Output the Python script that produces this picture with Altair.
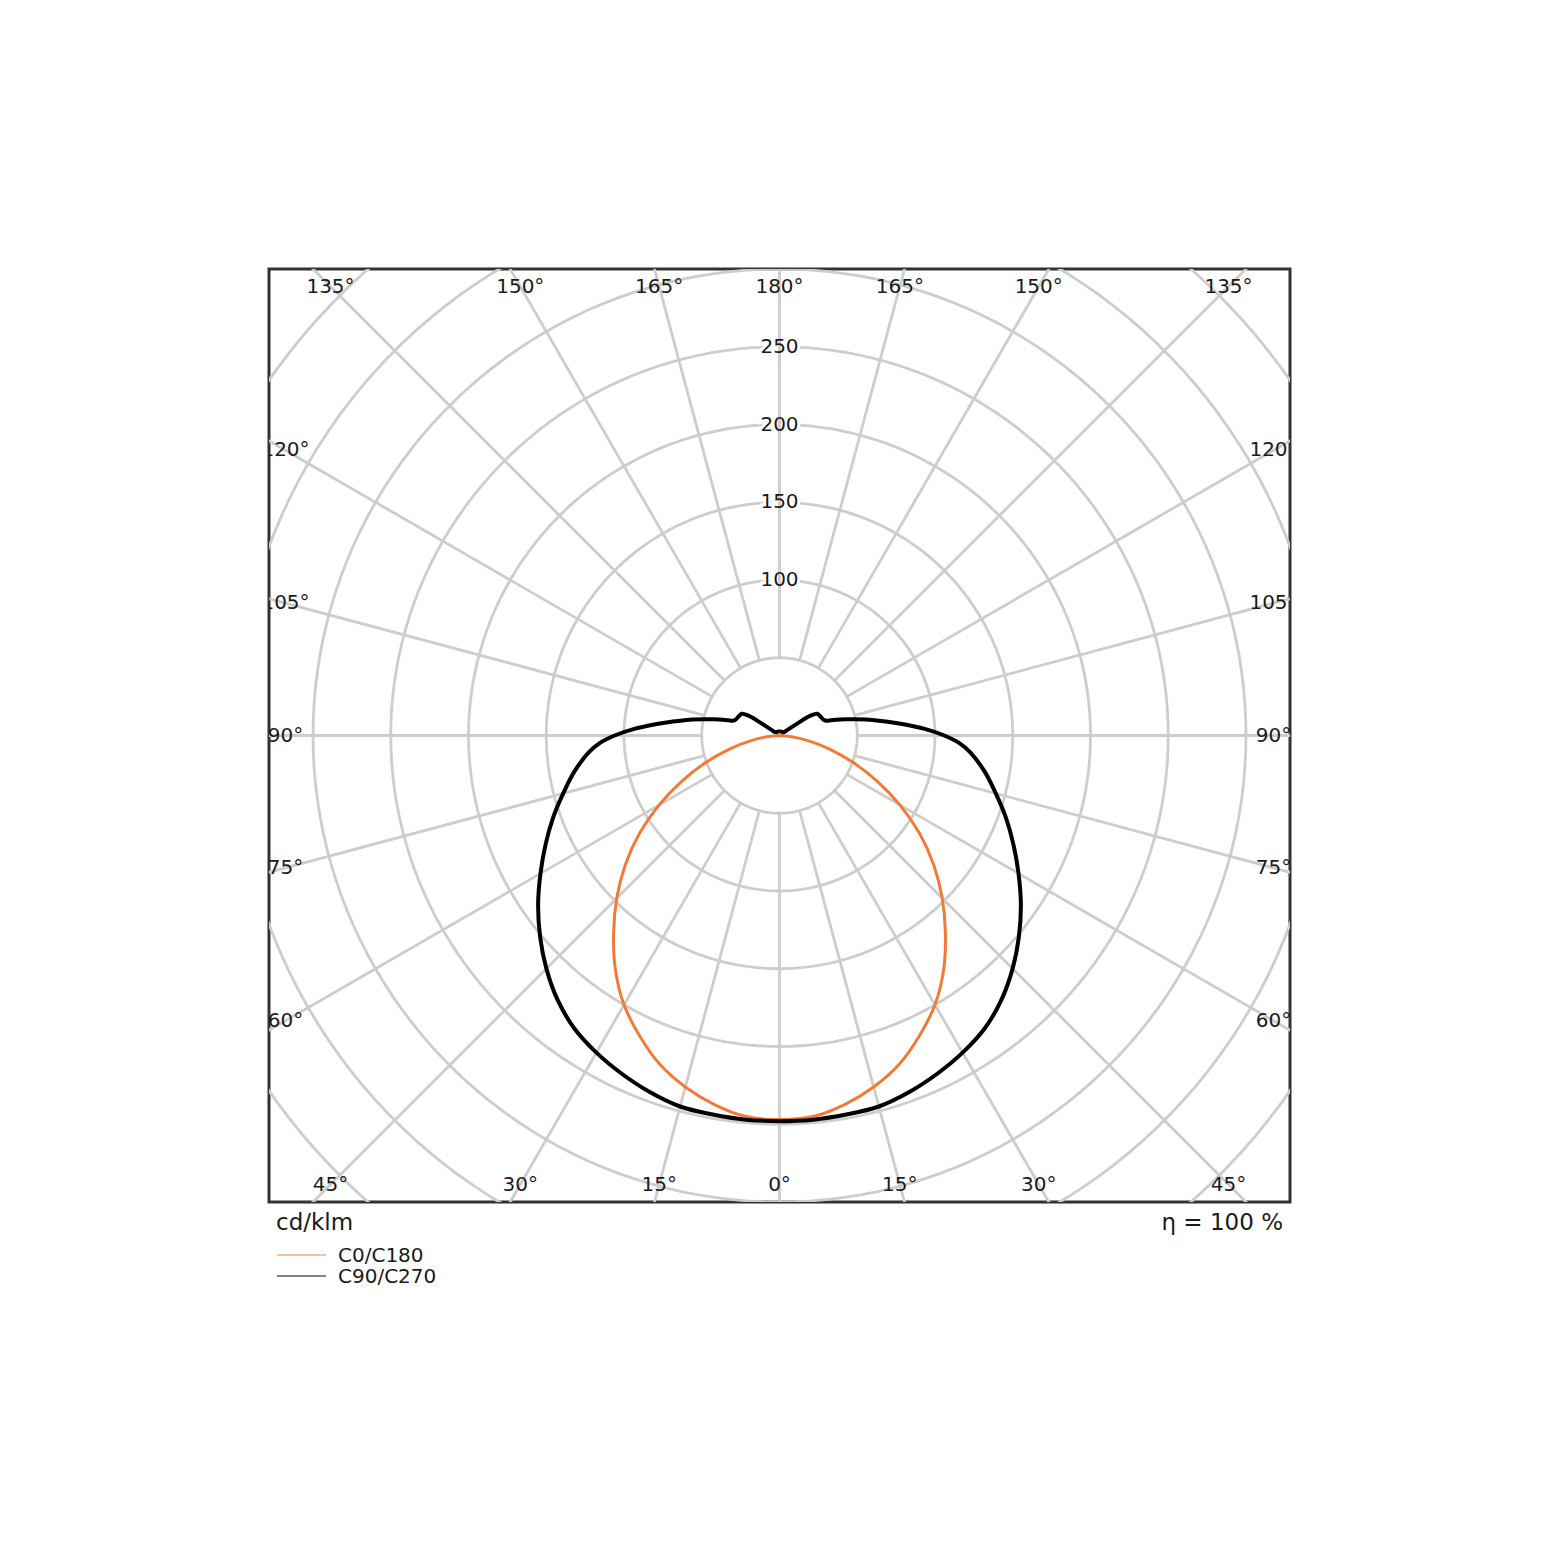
import math
import altair as alt
import pandas as pd

# ---------------- data (cd/klm) ----------------
GAMMA_C0 = [0, 5, 10, 15, 20, 25, 30, 35, 40, 45, 50, 55, 60, 65, 70, 75, 80, 85, 90]
I_C0_C180 = [247, 246, 241, 234, 225, 213, 200, 184, 166, 148, 129.5, 110, 89.5, 69, 50, 33, 18, 7, 0]

GAMMA_C90 = [0, 5, 10, 15, 20, 25, 30, 35, 40, 45, 50, 55, 60, 65, 70, 75, 80, 85, 87.5, 90,
             92.5, 95, 97.5, 100, 102.5, 105, 106.5, 107.5, 110, 115, 120, 122.5, 124, 125,
             127.5, 135, 150, 165, 180]
I_C90_C270 = [248, 248, 247.5, 247, 244, 240, 235.5, 230, 222, 212, 201, 189.5, 177.5, 166, 155,
              144, 134, 123, 116, 106, 94, 81, 69, 58.5, 48, 40, 34.5, 31.5, 30, 29, 28, 24, 14,
              6, 3.5, 3, 2.8, 2.7, 2.6]

SERIES = ["C0/C180", "C90/C270"]
RINGS = [50, 100, 150, 200, 250, 300, 350, 400, 450]
RING_LABELS = [100, 150, 200, 250]
SPOKES = list(range(0, 360, 15))
ANGLE_TICKS = [0, 15, 30, 45, 60, 75, 90, 105, 120, 135, 150, 165, 180]
UNIT_TEXT = "cd/klm"
ETA_TEXT = "η = 100 %"

# ---------------- layout / style ----------------
W, H = 1021, 933
S = 1.555                      # px per cd/klm
XD, YD = W / 2 / S, H / 2 / S
XM, YM = 494 / S, 449 / S       # label inset box
FONT = "DejaVu Sans"
GRID = "#cdcdcd"
TXT = "#1a1a1a"
ORANGE = "#f07b38"

xs = alt.Scale(domain=[-XD, XD], nice=False, zero=False)
ys = alt.Scale(domain=[-YD, YD], nice=False, zero=False)


def curve_rows(name, gammas, vals):
    rows, k = [], 0
    pairs = list(zip(gammas, vals))
    for g, v in reversed(pairs):
        rows.append(dict(series=name, gamma=g, I=v, side=-1, k=k)); k += 1
    for g, v in pairs[1:]:
        rows.append(dict(series=name, gamma=g, I=v, side=1, k=k)); k += 1
    return rows


curves = pd.DataFrame(curve_rows(SERIES[0], GAMMA_C0, I_C0_C180)
                      + curve_rows(SERIES[1], GAMMA_C90, I_C90_C270))

# grid circle geometry (ring radius x angle step)
ring_pts = pd.DataFrame([dict(r=r, a=a) for r in RINGS for a in range(0, 361, 2)])

rings = alt.Chart(ring_pts).transform_calculate(
    x="datum.r*sin(datum.a*PI/180)", y="-datum.r*cos(datum.a*PI/180)",
).mark_line(stroke=GRID, strokeWidth=2.8, clip=True).encode(
    x=alt.X("x:Q", scale=xs, axis=None), y=alt.Y("y:Q", scale=ys, axis=None),
    detail="r:N", order="a:Q",
)

spokes = alt.Chart(pd.DataFrame({"a": SPOKES})).transform_calculate(
    x1="50*sin(datum.a*PI/180)", y1="-50*cos(datum.a*PI/180)",
    x2="600*sin(datum.a*PI/180)", y2="-600*cos(datum.a*PI/180)",
).mark_rule(stroke=GRID, strokeWidth=2.8, clip=True).encode(
    x=alt.X("x1:Q", scale=xs, axis=None), y=alt.Y("y1:Q", scale=ys, axis=None),
    x2="x2:Q", y2="y2:Q",
)

rl = pd.DataFrame({"v": RING_LABELS})
ring_halo = alt.Chart(rl).transform_calculate(x="0", lab="datum.v + ''").mark_text(
    font=FONT, fontSize=20, color="white", stroke="white", strokeWidth=6, baseline="middle"
).encode(x=alt.X("x:Q", scale=xs, axis=None), y=alt.Y("v:Q", scale=ys, axis=None), text="lab:N")
ring_text = alt.Chart(rl).transform_calculate(x="0", lab="datum.v + ''").mark_text(
    font=FONT, fontSize=20, color=TXT, baseline="middle"
).encode(x=alt.X("x:Q", scale=xs, axis=None), y=alt.Y("v:Q", scale=ys, axis=None), text="lab:N")

lines = alt.Chart(curves).transform_calculate(
    x="datum.side*datum.I*sin(datum.gamma*PI/180)",
    y="-datum.I*cos(datum.gamma*PI/180)",
).mark_line(clip=True, strokeJoin="round", interpolate="catmull-rom").encode(
    x=alt.X("x:Q", scale=xs, axis=None),
    y=alt.Y("y:Q", scale=ys, axis=None),
    color=alt.Color("series:N", scale=alt.Scale(domain=SERIES, range=[ORANGE, "#000000"]), legend=None),
    strokeWidth=alt.StrokeWidth("series:N", scale=alt.Scale(domain=SERIES, range=[3.0, 4.0]), legend=None),
    order="k:Q",
)

arows = []
for a in ANGLE_TICKS:
    sides = [1] if a in (0, 180) else [-1, 1]
    for sd in sides:
        arows.append(dict(a=a, side=sd, lab=f"{a}°"))
angle_labels = alt.Chart(pd.DataFrame(arows)).transform_calculate(
    dx="datum.side*sin(datum.a*PI/180)", dy="-cos(datum.a*PI/180)",
).transform_calculate(
    t=f"min({XM}/abs(datum.dx), {YM}/abs(datum.dy))",
).transform_calculate(
    lx="datum.t*datum.dx", ly="datum.t*datum.dy",
).mark_text(font=FONT, fontSize=20, color=TXT, baseline="middle", align="center", clip=True).encode(
    x=alt.X("lx:Q", scale=xs, axis=None), y=alt.Y("ly:Q", scale=ys, axis=None), text="lab:N"
)

unit = alt.Chart(alt.Data(values=[{"t": UNIT_TEXT}])).mark_text(
    font=FONT, fontSize=23, color=TXT, align="left", baseline="alphabetic"
).encode(x=alt.value(7), y=alt.value(961), text="t:N")
eta = alt.Chart(alt.Data(values=[{"t": ETA_TEXT}])).mark_text(
    font=FONT, fontSize=23, color=TXT, align="right", baseline="alphabetic"
).encode(x=alt.value(1014), y=alt.value(961), text="t:N")

leg_o = alt.Chart(alt.Data(values=[{"t": SERIES[0]}])).mark_rule(color="#f7bfa3", strokeWidth=2).encode(
    x=alt.value(8), x2=alt.value(57), y=alt.value(986))
leg_k = alt.Chart(alt.Data(values=[{"t": SERIES[1]}])).mark_rule(color="#858585", strokeWidth=2).encode(
    x=alt.value(8), x2=alt.value(57), y=alt.value(1007))
leg_t1 = alt.Chart(alt.Data(values=[{"t": SERIES[0]}])).mark_text(
    font=FONT, fontSize=20, color=TXT, align="left", baseline="alphabetic"
).encode(x=alt.value(69), y=alt.value(993), text="t:N")
leg_t2 = alt.Chart(alt.Data(values=[{"t": SERIES[1]}])).mark_text(
    font=FONT, fontSize=20, color=TXT, align="left", baseline="alphabetic"
).encode(x=alt.value(69), y=alt.value(1014), text="t:N")

chart = alt.layer(
    rings, ring_halo, spokes, ring_text, lines, angle_labels,
    unit, eta, leg_o, leg_k, leg_t1, leg_t2,
).properties(
    width=W, height=H,
    padding={"left": 261, "top": 261, "right": 261, "bottom": 300},
    autosize=alt.AutoSizeParams(type="none"),
).configure_view(stroke="#333333", strokeWidth=3)

chart.save("out.html", embed_options={"renderer": "svg", "actions": False})
